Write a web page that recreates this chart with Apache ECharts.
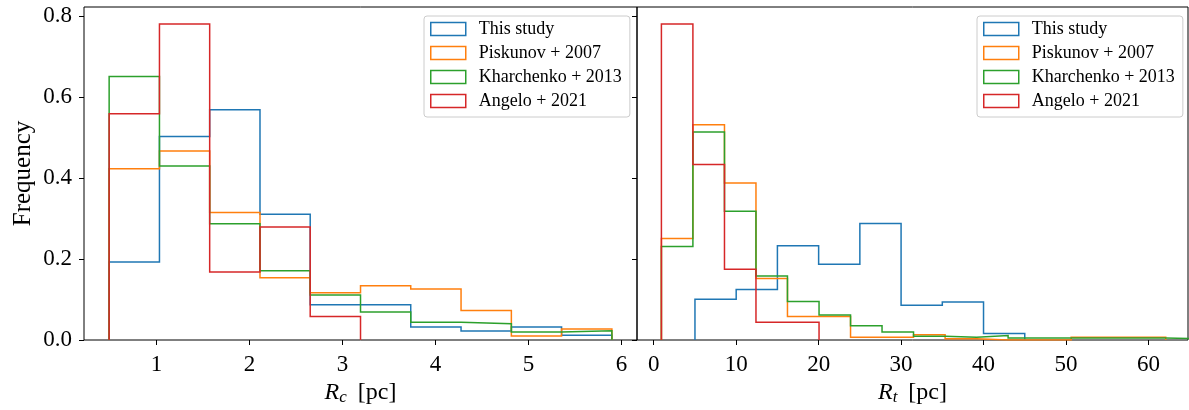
<!DOCTYPE html>
<html>
<head>
<meta charset="utf-8">
<script src="https://cdn.jsdelivr.net/npm/echarts@6/dist/echarts.min.js"></script>
<style>
  html, body { margin: 0; padding: 0; background: #ffffff; }
  #chart { width: 1189px; height: 410px; }
</style>
</head>
<body>
<div id="chart"></div>
<script>
// Catalogue names and their colours
const seriesNames = ['This study', 'Piskunov + 2007', 'Kharchenko + 2013', 'Angelo + 2021'];
const seriesColors = ['#1f77b4', '#ff7f0e', '#2ca02c', '#d62728'];

// Core radius R_c [pc]: shared bin edges and normalised frequencies
const rcEdges = [0.490, 1.031, 1.571, 2.112, 2.652, 3.193, 3.733, 4.274, 4.815, 5.355, 5.896];
const rcThisStudy  = [0.193, 0.503, 0.569, 0.311, 0.087, 0.087, 0.032, 0.022, 0.032, 0.012];
const rcPiskunov   = [0.423, 0.467, 0.315, 0.154, 0.117, 0.134, 0.126, 0.073, 0.010, 0.027];
const rcKharchenko = [0.651, 0.430, 0.287, 0.171, 0.111, 0.069, 0.044, 0.040, 0.020, 0.023];
const rcAngelo     = [0.559, 0.781, 0.168, 0.279, 0.058];

// Tidal radius R_t [pc]
const rtEdgesThisStudy = [5, 10, 15, 20, 25, 30, 35, 40, 45];
const rtThisStudy  = [0.101, 0.125, 0.233, 0.187, 0.288, 0.086, 0.094, 0.016];
const rtEdges = [0.93, 4.75, 8.58, 12.40, 16.22, 20.05, 23.87, 27.69, 31.51, 35.34,
                 39.16, 42.98, 46.81, 50.63, 54.45, 58.28, 62.10, 65.92, 69.75];
const rtPiskunov   = [0.251, 0.532, 0.388, 0.152, 0.058, 0.058, 0.007, 0.007, 0.013, 0.003,
                      0, 0, 0, 0.007, 0.007, 0.007];
const rtKharchenko = [0.231, 0.514, 0.318, 0.158, 0.095, 0.062, 0.035, 0.020, 0.009, 0.007,
                      0.011, 0.005, 0.005, 0.005, 0.005, 0.005, 0.003, 0.003];
const rtAngelo     = [0.781, 0.434, 0.175, 0.044, 0.044];

// Tick values
const yTicks = [0, 0.2, 0.4, 0.6, 0.8];
const rcTicks = [1, 2, 3, 4, 5, 6];
const rtTicks = [0, 10, 20, 30, 40, 50, 60];

const FONT = 'Liberation Serif';

// Outline of a step histogram: up from zero at the first edge, across each bin, back down at the last edge
function stepOutline(edges, values) {
  const pts = [[edges[0], 0]];
  values.forEach((v, i) => {
    pts.push([edges[i], v], [edges[i + 1], v]);
  });
  pts.push([edges[values.length], 0]);
  return pts;
}

function histSeries(idx, panel, edges, values) {
  return {
    type: 'line',
    name: seriesNames[idx],
    xAxisIndex: panel,
    yAxisIndex: panel,
    data: stepOutline(edges, values),
    symbol: 'none',
    showSymbol: false,
    clip: true,
    color: seriesColors[idx],
    lineStyle: { color: seriesColors[idx], width: 1.5, join: 'miter' },
    z: 2 + idx
  };
}

function makeLegend(left) {
  return {
    left: left,
    top: 16,
    orient: 'vertical',
    icon: 'rect',
    itemWidth: 35,
    itemHeight: 13,
    itemGap: 6,
    padding: [4, 8, 7, 6],
    backgroundColor: 'rgba(255,255,255,0.8)',
    borderColor: '#cccccc',
    borderWidth: 1,
    borderRadius: 3,
    selectedMode: false,
    textStyle: { fontFamily: FONT, fontSize: 18, color: '#000', lineHeight: 18, padding: [0, 0, 0, 8] },
    data: seriesNames.map((n, i) => ({
      name: n,
      itemStyle: { color: 'rgba(0,0,0,0)', borderColor: seriesColors[i], borderWidth: 1.5 }
    }))
  };
}

const tickStyle = { show: true, inside: false, length: 5, lineStyle: { color: '#000', width: 1 } };

function xAxisFor(panel, min, max, ticks, sub) {
  return {
    type: 'value',
    gridIndex: panel,
    min: min,
    max: max,
    splitLine: { show: false },
    axisLine: { show: false, onZero: false },
    axisTick: Object.assign({}, tickStyle, { customValues: ticks }),
    axisLabel: {
      customValues: ticks,
      formatter: v => String(Math.round(v)),
      fontFamily: FONT, fontSize: 23, color: '#000', margin: 13
    },
    name: '{i|R}{s|' + sub + '}{t|[pc]}',
    nameLocation: 'middle',
    nameGap: 40,
    nameTextStyle: {
      rich: {
        i: { fontFamily: FONT, fontStyle: 'italic', fontSize: 24, lineHeight: 26, color: '#000' },
        s: { fontFamily: FONT, fontStyle: 'italic', fontSize: 17, lineHeight: 17, verticalAlign: 'bottom', color: '#000' },
        t: { fontFamily: FONT, fontSize: 24, lineHeight: 26, color: '#000', padding: [0, 0, 0, 11] }
      }
    }
  };
}

function yAxisFor(panel, showLabels) {
  return {
    type: 'value',
    gridIndex: panel,
    min: 0,
    max: 0.823,
    splitLine: { show: false },
    axisLine: { show: false, onZero: false },
    axisTick: Object.assign({}, tickStyle, { customValues: yTicks }),
    axisLabel: {
      show: showLabels,
      customValues: yTicks,
      formatter: v => v.toFixed(1),
      fontFamily: FONT, fontSize: 23, color: '#000', margin: 12
    },
    name: showLabels ? 'Frequency' : '',
    nameLocation: 'middle',
    nameGap: 48,
    nameTextStyle: { fontFamily: FONT, fontSize: 25, color: '#000' }
  };
}

const gridBase = {
  top: 7, height: 333, show: true,
  borderColor: '#000', borderWidth: 1, backgroundColor: 'transparent',
  containLabel: false, outerBoundsMode: 'none'
};

const chart = echarts.init(document.getElementById('chart'), null, { renderer: 'canvas' });
chart.setOption({
  animation: false,
  backgroundColor: '#ffffff',
  grid: [
    Object.assign({ left: 84, width: 553 }, gridBase),
    Object.assign({ left: 637, width: 551 }, gridBase)
  ],
  legend: [makeLegend(424), makeLegend(977)],
  xAxis: [
    xAxisFor(0, 0.2196, 6.166, rcTicks, 'c'),
    xAxisFor(1, -2.03, 64.8, rtTicks, 't')
  ],
  yAxis: [yAxisFor(0, true), yAxisFor(1, false)],
  series: [
    histSeries(0, 0, rcEdges, rcThisStudy),
    histSeries(1, 0, rcEdges, rcPiskunov),
    histSeries(2, 0, rcEdges, rcKharchenko),
    histSeries(3, 0, rcEdges, rcAngelo),
    histSeries(0, 1, rtEdgesThisStudy, rtThisStudy),
    histSeries(1, 1, rtEdges, rtPiskunov),
    histSeries(2, 1, rtEdges, rtKharchenko),
    histSeries(3, 1, rtEdges, rtAngelo)
  ]
});
</script>
</body>
</html>
